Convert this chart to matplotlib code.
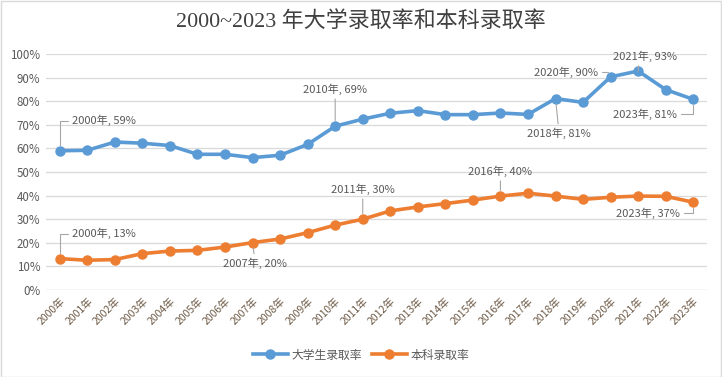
import numpy as np
import matplotlib.pyplot as plt

plt.rcParams['font.family'] = ['Noto Sans CJK SC', 'DejaVu Sans']

years = list(range(2000, 2024))
labels = [f"{y}年" for y in years]
# 大学生录取率 (%)
college = [59, 59.2, 62.7, 62.2, 61.2, 57.5, 57.5, 56.1, 57.1, 61.7, 69.4, 72.4,
           74.9, 76.0, 74.3, 74.3, 75.0, 74.4, 81.1, 79.5, 90.3, 92.8, 84.9, 80.8]
# 本科录取率 (%)
bachelor = [13.3, 12.6, 12.9, 15.4, 16.5, 16.8, 18.2, 20.1, 21.6, 24.3, 27.5, 30.0,
            33.5, 35.2, 36.6, 38.1, 39.8, 41.0, 39.8, 38.4, 39.3, 39.8, 39.7, 37.2]
college_shown = {2000: 59, 2010: 69, 2018: 81, 2020: 90, 2021: 93, 2023: 81}
bachelor_shown = {2000: 13, 2007: 20, 2011: 30, 2016: 40, 2023: 37}

blue = '#5b9bd5'
orange = '#ed7d31'
txt = '#595959'
lead = '#a6a6a6'

fig = plt.figure(figsize=(7.22, 3.77), dpi=100)
ax = fig.add_axes([46/722, 1-290/377, (707-46)/722, (290-54)/377])
x = np.arange(len(years))
ax.plot(x, college, color=blue, lw=2.6, marker='o', ms=6.5, label='大学生录取率')
ax.plot(x, bachelor, color=orange, lw=2.6, marker='o', ms=6.5, label='本科录取率')

ax.set_xlim(-0.5, len(years) - 0.5)
ax.set_ylim(0, 100)
ax.set_yticks(range(0, 101, 10))
ax.set_yticklabels([f"{v}%" for v in range(0, 101, 10)], color=txt, fontsize=8.3)
ax.set_xticks(x)
ax.set_xticklabels(labels, rotation=45, ha='right', rotation_mode='anchor',
                   color='#6e5a46', fontsize=7.5)
ax.tick_params(length=0, pad=4)
ax.grid(axis='y', color='#d9d9d9', lw=0.9)
ax.set_axisbelow(True)
for s in ax.spines.values():
    s.set_visible(False)
ax.axhline(0, color='#d9d9d9', lw=0.9)

# (dx, dy) in pixels, text anchor, connection style
c_pos = {2000: (12, 30, 'left', 'angle,angleA=0,angleB=90,rad=0', (0, 0.5)),
         2010: (0, 37, 'center', 'arc3', (0.5, 0)),
         2018: (3, -35, 'center', 'arc3', (0.5, 1)),
         2020: (-13, 5, 'right', 'angle,angleA=0,angleB=90,rad=0', (1, 0.5)),
         2021: (7, 15, 'center', 'arc3', (0.4, 0)),
         2023: (-16, -15, 'right', 'angle,angleA=0,angleB=90,rad=0', (1, 0.5))}
b_pos = {2000: (12, 25, 'left', 'angle,angleA=0,angleB=90,rad=0', (0, 0.5)),
         2007: (2, -21, 'center', 'arc3', (0.5, 1)),
         2011: (0, 30, 'center', 'arc3', (0.5, 0)),
         2016: (0, 25, 'center', 'arc3', (0.5, 0)),
         2023: (-13, -11, 'right', 'angle,angleA=0,angleB=90,rad=0', (1, 0.5))}

def label(series, shown, pos):
    for yr, v in shown.items():
        i = years.index(yr)
        dx, dy, ha, cs, rp = pos[yr]
        ax.annotate(f"{yr}年, {v}%", (i, series[i]), xytext=(dx, dy),
                    textcoords='offset pixels', ha=ha, va='center',
                    fontsize=8, color=txt,
                    arrowprops=dict(arrowstyle='-', color=lead, lw=0.8,
                                    connectionstyle=cs, relpos=rp,
                                    shrinkA=1, shrinkB=4))

label(college, college_shown, c_pos)
label(bachelor, bachelor_shown, b_pos)

fig.text(0.5, 1-22/377, '2000~2023 年大学录取率和本科录取率', ha='center', va='center',
         fontsize=15.8, color='#404040',
         family=['Liberation Serif', 'Noto Sans CJK SC'])
fig.legend(loc='center', bbox_to_anchor=(0.5, 1-355/377), ncol=2, frameon=False,
           fontsize=8.5, labelcolor=txt, handlelength=3, columnspacing=0.8,
           handletextpad=0.3)
fig.patches.append(plt.Rectangle((0.001, 0.001), 0.998, 0.997, transform=fig.transFigure,
                                 fill=False, ec='#d9d9d9', lw=1))
plt.savefig('out.png', dpi=100)
